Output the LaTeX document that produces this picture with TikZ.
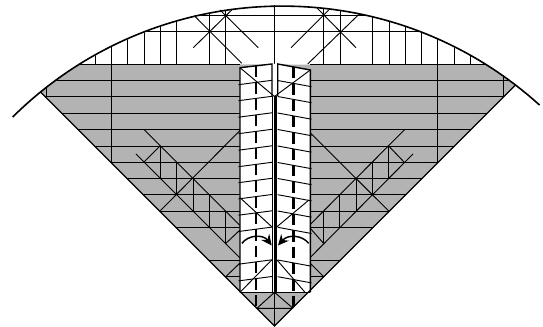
\documentclass[tikz,border=0pt]{standalone}
\usepackage{xcolor}
\usetikzlibrary{arrows.meta}
\definecolor{foldgray}{HTML}{b3b3b3}
\tikzstyle{gridline} = [black, line width=0.7pt]
\tikzstyle{edgeline} = [black, line width=1.05pt]
\tikzstyle{rimline} = [black, line width=1.2pt]
\tikzstyle{foldline} = [black, line width=2.2pt, dash pattern=on 8.6pt off 3.65pt]
\tikzstyle{arrow} = [black, line width=1.1pt, -{Stealth[length=8pt,width=7.5pt]}]
\begin{document}
\begin{tikzpicture}[x=0.75pt, y=-0.75pt]
  \useasboundingbox (0,0) rectangle (543,327);

  % Shaded part of the sector
  \fill[foldgray] (80,64) arc[start angle=238.1, end angle=230.9, radius=383.5]
    -- (274.5,326) -- (515,85.5) arc[start angle=307.3, end angle=301.9, radius=383.5] -- cycle;

  % Grid, cut off at the rim and the two edges
  \begin{scope}
    \clip (41,92.5) arc[start angle=230.9, end angle=307.3, radius=383.5] -- (274.5,326) -- cycle;
    \foreach \y in {64,80.5,96.5,113,129.5,146,162.5,178.3,194.7,211,227.3,260,276.7}
      \draw[gridline] (0,\y) -- (240,\y) (310,\y) -- (543,\y);
    \draw[gridline] (0,31.5) -- (543,31.5) (0,15) -- (543,15);
    \foreach \x in {95,127.5,144,160,176.5,209.5,225.5,323.5,340,372.5,389,405,421.5,454,470}
      \draw[gridline] (\x,0) -- (\x,64);
    \draw[gridline] (111.5,0) -- (111.5,170) (437.5,0) -- (437.5,170);
    \draw[gridline] (46.5,70) -- (46.5,96.5) (503,70) -- (503,96.5);
  \end{scope}
  \draw[gridline] (274.5,5) -- (274.5,96.5);

  % Crossings above the strips
  \draw[gridline] (194.3,15.7) -- (241.7,63.3) (193.3,47.7) -- (231.7,10) (220,10) -- (258.3,47.7);
  \draw[gridline] (291,47.7) -- (328.7,10) (317,8) -- (356,47.7) (307.7,64) -- (359.3,14);

  % Left pleats
  \draw[gridline] (144,129.5) -- (240,225.5) (136,154) -- (240,258);
  \draw[gridline] (240,130.5) -- (160,211) (160,146) -- (143.5,162.5);
  \draw[gridline] (240,230) -- (225.7,243.5) (240,263) -- (225.7,276.7);
  \draw[gridline] (160,146) -- (160,178.3) (176.5,162) -- (176.5,194.7) (193,178.3) -- (193,211)
    (209.5,194.7) -- (209.5,227.3) (225.7,211) -- (225.7,243.5);

  % Right pleats
  \draw[gridline] (404.7,129.5) -- (309.7,225) (413,154) -- (310,257.7);
  \draw[gridline] (309.7,132.3) -- (388.7,211) (388.7,146) -- (404.7,162.7);
  \draw[gridline] (310,228) -- (323.7,243.5) (310,263) -- (323.7,276.7);
  \draw[gridline] (388.7,146) -- (388.7,178.3) (372.5,162) -- (372.5,194.7) (356.2,178.3) -- (356.2,211)
    (339.8,194.7) -- (339.8,227.3) (323.5,211) -- (323.5,243.5);

  % Tip below the strips
  \draw[gridline] (257,308.3) -- (292,308.3) (274.5,292.3) -- (257,308.3) (274.5,292.3) -- (293,308.3);
  \draw[gridline] (274.5,292.3) -- (274.5,326);

  % Two white strips
  \fill[white] (240,67.7) -- (272,64) -- (277.7,64) -- (310.3,70) -- (310.3,292.3) -- (240,292.3) -- cycle;
  \foreach \y in {80.5,96.5,113,129.5,146,162.5,178.5,194.7,211,227.3,260,276.7}
    \draw[gridline] (238.5,\y+4.2) -- (272,\y-0.2) (277.7,\y) -- (311.5,\y+6.2);
  \draw[gridline] (240,67.7) -- (274.5,96.5) -- (310.3,70);
  \draw[gridline] (240,197.7) -- (271.7,226.7) (277,226.7) -- (309,200);
  \draw[gridline] (240,292.3) -- (271.7,260) (277,260) -- (305,292.3);
  \draw[edgeline] (240,292.3) -- (240,67.7) -- (272,64) -- (272,96);
  \draw[edgeline] (277.7,96) -- (277.7,64) -- (310.3,70) -- (310.3,292.3);
  \draw[gridline] (272.4,96) -- (272.4,292.3) (276.6,96) -- (276.6,292.3);
  \draw[black, line width=1.5pt] (274.5,96.5) -- (274.5,292.3);
  \draw[edgeline] (240,292.3) -- (310.3,292.3);

  % Valley folds and arrows
  \draw[foldline] (256,66) -- (256,308);
  \draw[foldline] (293.7,67) -- (293.7,308);
  \draw[arrow] (242,243.3) .. controls (248,235) and (263,234) .. (271.7,245.5);
  \draw[arrow] (308.7,243.3) .. controls (302,235) and (288,234) .. (278,245.5);

  % Outline
  \draw[rimline] (12.7,117) arc[start angle=225.3, end angle=312.1, radius=383.5];
  \draw[edgeline] (41,92.5) -- (274.5,326) -- (515,85.5);
\end{tikzpicture}
\end{document}
